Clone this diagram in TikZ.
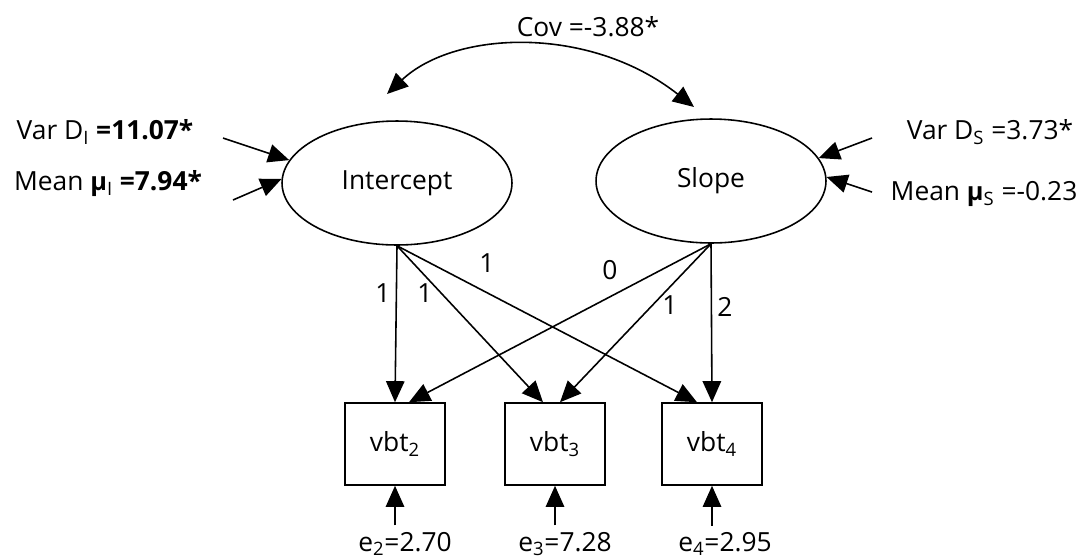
\documentclass[tikz,border=0pt]{standalone}
\usepackage{fontspec}
\setmainfont{Open Sans}
\usetikzlibrary{arrows.meta}
\usetikzlibrary{shapes.geometric}
\tikzset{arr/.style = {-{Triangle[length=12pt,width=10.5pt]}},
         latent/.style = {ellipse, draw, minimum width=4.6cm, minimum height=2.48cm, inner sep=0pt},
         observed/.style = {rectangle, draw, minimum width=2cm, minimum height=1.64cm, inner sep=0pt},
         lbl/.style = {inner sep=1pt}}

\begin{document}
\begin{tikzpicture}[x=0.02cm, y=-0.02cm, line width=0.9pt, font=\fontsize{15}{17}\selectfont]
    \useasboundingbox (0, 0) rectangle (1084, 559);
    % factors
    \node [latent] (Int) at (397, 183) {Intercept};
    \node [latent] (Slp) at (711, 181) {Slope};
    % measured variables
    \node [observed] (v2) at (395, 444) {vbt\textsubscript{2}};
    \node [observed] (v3) at (555, 444) {vbt\textsubscript{3}};
    \node [observed] (v4) at (712, 444) {vbt\textsubscript{4}};
    % loadings
    \draw [arr] (Int.south) -- (v2.north);
    \draw [arr] (Int.south) -- ([xshift=-0.24cm]v3.north);
    \draw [arr] (Int.south) -- ([xshift=-0.3cm]v4.north);
    \draw [arr] (Slp.south) -- ([xshift=0.28cm]v2.north);
    \draw [arr] (Slp.south) -- ([xshift=0.1cm]v3.north);
    \draw [arr] (Slp.south) -- (v4.north);
    \node [lbl] (l1) at (383, 293) {1};
    \node [lbl] (l2) at (425, 293) {1};
    \node [lbl] (l3) at (487, 263) {1};
    \node [lbl] (l4) at (610, 270) {0};
    \node [lbl] (l5) at (670, 305) {1};
    \node [lbl] (l6) at (725, 307) {2};
    % covariance
    \coordinate (covL) at (387, 94);
    \coordinate (covR) at (694, 107);
    \draw [{Triangle[length=12pt,width=10.5pt]}-{Triangle[length=12pt,width=10.5pt]}]
        (covL) .. controls (455, 30) and (590, 25) .. (covR);
    \node (cov) at (588, 27) {Cov =-3.88*};
    % variances and means
    \node (varI) at (105, 132) {Var D\textsubscript{I} \textbf{=11.07*}};
    \node (meanI) at (108, 184) {Mean {\Large\textbf{μ}}\textsubscript{I} \textbf{=7.94*}};
    \node (varS) at (990, 132) {Var D\textsubscript{S} =3.73*};
    \node (meanS) at (984, 194) {Mean {\Large\textbf{μ}}\textsubscript{S} =-0.23};
    \coordinate (vi) at (223, 138);
    \coordinate (mi) at (233, 200);
    \coordinate (vs) at (872, 138);
    \coordinate (ms) at (872, 192);
    \draw [arr] (vi) -- (Int.168);
    \draw [arr] (mi) -- (Int.178);
    \draw [arr] (vs) -- (Slp.12);
    \draw [arr] (ms) -- (Slp.2);
    % errors
    \node (e2) at (405, 544) {e\textsubscript{2}=2.70};
    \node (e3) at (565, 544) {e\textsubscript{3}=7.28};
    \node (e4) at (725, 544) {e\textsubscript{4}=2.95};
    \draw [arr] (e2.north -| v2.south) -- (v2.south);
    \draw [arr] (e3.north -| v3.south) -- (v3.south);
    \draw [arr] (e4.north -| v4.south) -- (v4.south);
\end{tikzpicture}
\end{document}
